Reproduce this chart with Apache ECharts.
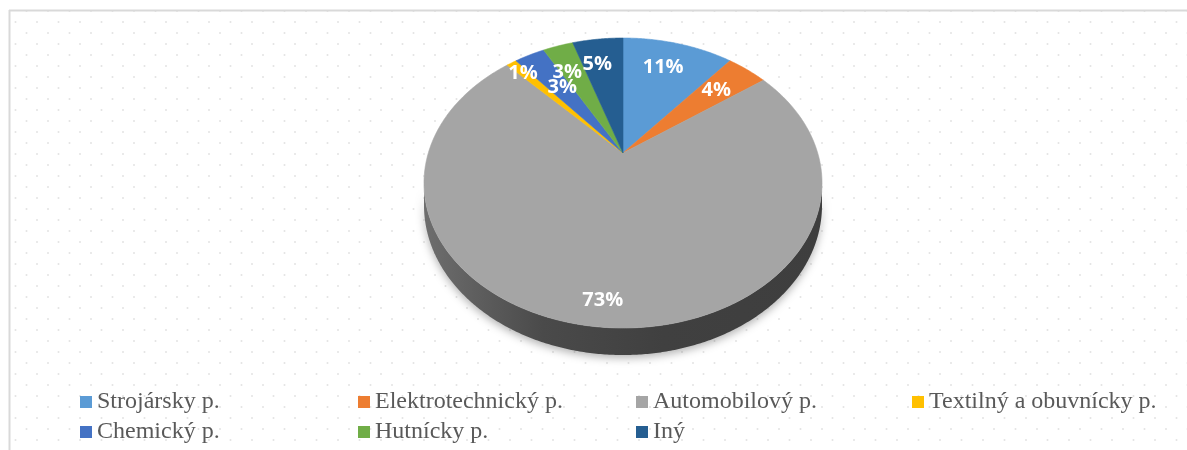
<!DOCTYPE html>
<html>
<head>
<meta charset="utf-8">
<script src="https://cdn.jsdelivr.net/npm/echarts@6/dist/echarts.min.js"></script>
<style>
  html, body { margin: 0; padding: 0; background: #ffffff; }
  #chart { width: 1187px; height: 450px; }
</style>
</head>
<body>
<div id="chart"></div>
<script>
// Industry shares (percent)
const categories = ['Strojársky p.', 'Elektrotechnický p.', 'Automobilový p.', 'Textilný a obuvnícky p.', 'Chemický p.', 'Hutnícky p.', 'Iný'];
const shares = [11, 4, 73, 1, 3, 3, 5];
const sliceColors = ['#5b9bd5', '#ed7d31', '#a5a5a5', '#ffc000', '#4472c4', '#70ad47', '#255e91'];

// Legend is laid out in four columns (indices into categories)
const legendColumns = [[0, 4], [1, 5], [2, 6], [3]];
const legendLefts = [80, 358, 636, 912];

// Tilted pie geometry: perspective-projected disk with a thin rim
const PIE = { cx: 623, cy: 153, A: 138.8, B: 194.7, k: 0.207, H: 21.4, labelR: 0.75 };
// Small label offsets to keep the narrow-slice labels apart
const labelShift = [[-3, 0], [-3, 2], [-4, 25], [-13.5, -10], [12, 10.5], [-5, 3], [-6, 0]];

const total = shares.reduce((a, b) => a + b, 0);
const FRONT0 = Math.acos(-PIE.k);             // where the rim starts to face the viewer
const FRONT1 = 2 * Math.PI - FRONT0;

// angle theta is measured clockwise from 12 o'clock; f = radius fraction; z = 0 top face, 1 bottom
function project(f, theta, z) {
  const u = f * Math.sin(theta), v = f * Math.cos(theta);
  const d = 1 + PIE.k * v;
  return [PIE.cx + PIE.B * u / d, PIE.cy - PIE.A * v / d + z * PIE.H / d];
}

function arcPoints(t0, t1, z) {
  const pts = [];
  const n = Math.max(2, Math.ceil((t1 - t0) / (Math.PI / 360)));
  for (let j = 0; j <= n; j++) pts.push(project(1, t0 + (t1 - t0) * j / n, z));
  return pts;
}

function makeRender(i) {
  return function (params, api) {
    const val = api.value(0);
    const before = shares.slice(0, i).reduce((a, b) => a + b, 0);
    const t0 = 2 * Math.PI * before / total;
    const t1 = 2 * Math.PI * (before + val) / total;
    const color = api.visual('color');
    const children = [];

    // rim (only the part facing the viewer)
    const s0 = Math.max(t0, FRONT0), s1 = Math.min(t1, FRONT1);
    if (s1 > s0) {
      const top = arcPoints(s0, s1, 0);
      const bottom = arcPoints(s0, s1, 1).reverse();
      children.push({
        type: 'polygon',
        shape: { points: top.concat(bottom) },
        style: {
          fill: {
            type: 'linear', x: 0, y: 0, x2: 1, y2: 0,
            colorStops: [
              { offset: 0, color: '#6e6e6e' },
              { offset: 0.3, color: '#4a4a4a' },
              { offset: 0.6, color: '#404040' },
              { offset: 1, color: '#3e3e3e' }
            ]
          },
          shadowBlur: 8,
          shadowColor: 'rgba(0,0,0,0.3)',
          shadowOffsetY: 3
        }
      });
    }

    // top face
    const pts = [project(0, 0, 0)].concat(arcPoints(t0, t1, 0));
    children.push({
      type: 'polygon',
      shape: { points: pts },
      style: { fill: color, stroke: color, lineWidth: 0.6 }
    });

    // percentage label
    const mid = (t0 + t1) / 2;
    const p = project(PIE.labelR, mid, 0);
    const sh = labelShift[i];
    children.push({
      type: 'text',
      z2: 100,
      style: {
        text: Math.round(val / total * 100) + '%',
        x: p[0] + sh[0],
        y: p[1] + sh[1],
        fill: '#ffffff',
        font: 'bold 20px "Open Sans"',
        align: 'center',
        verticalAlign: 'middle'
      }
    });
    return { type: 'group', children: children };
  };
}

// dotted backdrop pattern
const tile = document.createElement('canvas');
tile.width = 43; tile.height = 22;
const tctx = tile.getContext('2d');
tctx.fillStyle = '#e3e3e3';
[[15.5, 0], [37, 0], [15.5, 22], [37, 22], [5, 11], [26.5, 11]].forEach(function (d) {
  tctx.beginPath();
  tctx.arc(d[0], d[1], 1, 0, Math.PI * 2);
  tctx.fill();
});

const series = categories.map(function (name, i) {
  return {
    type: 'custom',
    name: name,
    coordinateSystem: 'none',
    itemStyle: { color: sliceColors[i] },
    data: [shares[i]],
    renderItem: makeRender(i),
    silent: true
  };
});

const legends = legendColumns.map(function (col, c) {
  return {
    orient: 'vertical',
    left: legendLefts[c],
    top: 390,
    itemGap: 6,
    itemWidth: 12,
    itemHeight: 12,
    icon: 'rect',
    selectedMode: false,
    padding: 0,
    data: col.map(function (i) { return categories[i]; }),
    textStyle: { fontFamily: '"Liberation Serif"', fontSize: 24, color: '#595959', lineHeight: 24 }
  };
});

const chart = echarts.init(document.getElementById('chart'), null, { renderer: 'canvas' });
chart.setOption({
  animation: false,
  backgroundColor: '#ffffff',
  graphic: [
    {
      type: 'rect', z: -10, silent: true,
      shape: { x: 10, y: 11, width: 1177, height: 439 },
      style: { fill: { image: tile, repeat: 'repeat' } }
    },
    {
      type: 'line', z: -9, silent: true,
      shape: { x1: 9, y1: 10.5, x2: 1187, y2: 10.5 },
      style: { stroke: '#d9d9d9', lineWidth: 2 }
    },
    {
      type: 'line', z: -9, silent: true,
      shape: { x1: 9.5, y1: 10, x2: 9.5, y2: 450 },
      style: { stroke: '#d9d9d9', lineWidth: 2 }
    }
  ],
  legend: legends,
  series: series
});
</script>
</body>
</html>
